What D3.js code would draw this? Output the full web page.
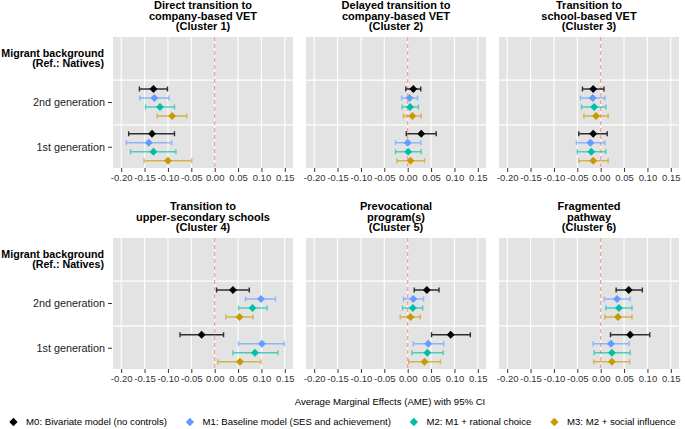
<!DOCTYPE html>
<html><head><meta charset="utf-8">
<script src="https://cdn.jsdelivr.net/npm/d3@7"></script>
<style>body{margin:0;background:#fff}svg{display:block}text{font-family:"Liberation Sans",Arial,sans-serif}</style>
</head><body><svg id="c" width="685" height="429"></svg>
<script>
const clusterTitles = [
  ["Direct transition to","company-based VET","(Cluster 1)"],
  ["Delayed transition to","company-based VET","(Cluster 2)"],
  ["Transition to","school-based VET","(Cluster 3)"],
  ["Transition to","upper-secondary schools","(Cluster 4)"],
  ["Prevocational","program(s)","(Cluster 5)"],
  ["Fragmented","pathway","(Cluster 6)"]
];
const models = ["M0: Bivariate model (no controls)","M1: Baseline model (SES and achievement)","M2: M1 + rational choice","M3: M2 + social influence"];
const modelColors = ["#000000","#619CFF","#00BFA5","#C99A00"];
const generations = ["2nd generation","1st generation"];
const headerLabel = ["Migrant background","(Ref.: Natives)"];
const xTicks = [-0.20,-0.15,-0.10,-0.05,0.00,0.05,0.10,0.15];
const xTickLabels = ["-0.20","-0.15","-0.10","-0.05","0.00","0.05","0.10","0.15"];
const xTitle = "Average Marginal Effects (AME) with 95% CI";
// estimates[cluster][generation][model]
const estimates = [
  [[-0.131,-0.129,-0.117,-0.091],[-0.134,-0.141,-0.131,-0.100]],
  [[0.012,0.004,0.005,0.010],[0.029,0.000,0.001,0.006]],
  [[-0.016,-0.017,-0.014,-0.010],[-0.016,-0.022,-0.020,-0.016]],
  [[0.039,0.099,0.081,0.053],[-0.028,0.101,0.086,0.054]],
  [[0.041,0.012,0.011,0.006],[0.092,0.044,0.042,0.036]],
  [[0.060,0.035,0.039,0.037],[0.063,0.022,0.024,0.024]]
];
const ciLow = [
  [[-0.161,-0.160,-0.148,-0.123],[-0.184,-0.189,-0.180,-0.151]],
  [[-0.004,-0.013,-0.012,-0.009],[-0.003,-0.026,-0.026,-0.023]],
  [[-0.039,-0.043,-0.041,-0.036],[-0.047,-0.052,-0.050,-0.047]],
  [[0.004,0.066,0.051,0.024],[-0.074,0.051,0.039,0.007]],
  [[0.014,-0.009,-0.011,-0.016],[0.051,0.012,0.009,0.002]],
  [[0.033,0.008,0.011,0.009],[0.021,-0.016,-0.014,-0.015]]
];
const ciHigh = [
  [[-0.101,-0.098,-0.086,-0.060],[-0.086,-0.092,-0.083,-0.049]],
  [[0.028,0.021,0.023,0.029],[0.061,0.028,0.029,0.036]],
  [[0.007,0.009,0.011,0.016],[0.014,0.009,0.011,0.016]],
  [[0.074,0.130,0.112,0.082],[0.019,0.149,0.135,0.099]],
  [[0.067,0.034,0.032,0.027],[0.134,0.077,0.076,0.070]],
  [[0.089,0.063,0.067,0.067],[0.105,0.061,0.063,0.062]]
];

const svg = d3.select("#c");
const panelW = 180, panelH = 131;
const panelLeft = [113, 306, 499], panelTop = [37, 238];
const x = d3.scaleLinear().domain([-0.2175, 0.1675]).range([0, panelW]);
const yCat = d3.scalePoint().domain(["header", ...generations]).range([0, panelH]).padding(0.465);
const yModel = d3.scaleBand().domain(models).range([-18, 18]);
const diamond = d3.symbol().type(d3.symbolDiamond2 || d3.symbolSquare2).size(40);

clusterTitles.forEach((title, ci) => {
  const col = ci % 3, row = Math.floor(ci / 3);
  const g = svg.append("g").attr("transform", `translate(${panelLeft[col]},${panelTop[row]})`);
  g.append("rect").attr("width", panelW).attr("height", panelH).attr("fill", "#E3E3E3");
  g.selectAll(".vg").data(xTicks).join("line")
    .attr("x1", d => x(d)).attr("x2", d => x(d)).attr("y1", 0).attr("y2", panelH)
    .attr("stroke", "#fff").attr("stroke-width", 1.1);
  const step = yCat.step();
  [yCat("header") + step / 2, yCat(generations[0]) + step / 2].forEach(yy => {
    g.append("line").attr("x1", 0).attr("x2", panelW).attr("y1", yy).attr("y2", yy)
      .attr("stroke", "#fff").attr("stroke-width", 1.4);
  });
  g.append("line").attr("x1", x(0)).attr("x2", x(0)).attr("y1", 0).attr("y2", panelH)
    .attr("stroke", "#F59A92").attr("stroke-width", 1.2).attr("stroke-dasharray", "4,3");
  const ax = g.append("g").attr("transform", `translate(0,${panelH})`)
    .call(d3.axisBottom(x).tickValues(xTicks).tickFormat((d, i) => xTickLabels[i]).tickSize(4).tickPadding(2));
  ax.select(".domain").remove();
  ax.selectAll("line").attr("stroke", "#333").attr("stroke-width", 1);
  ax.selectAll("text").attr("font-size", 9.5).attr("fill", "#333");
  const t = svg.append("text").attr("text-anchor", "middle").attr("font-weight", "bold").attr("font-size", 11)
    .attr("x", panelLeft[col] + panelW / 2).attr("y", panelTop[row] - 28);
  title.forEach((s, i) => t.append("tspan").attr("x", panelLeft[col] + panelW / 2).attr("dy", i ? 10.6 : 0).text(s));
  if (col === 0) {
    const hl = svg.append("text").attr("text-anchor", "end").attr("font-weight", "bold").attr("font-size", 10.7)
      .attr("x", panelLeft[0] - 9).attr("y", panelTop[row] + yCat("header") - 1);
    headerLabel.forEach((s, i) => hl.append("tspan").attr("x", panelLeft[0] - 9).attr("dy", i ? 10.5 : 0).text(s));
    generations.forEach(gen => {
      const yy = panelTop[row] + yCat(gen);
      svg.append("text").attr("text-anchor", "end").attr("font-size", 10.8).attr("fill", "#222")
        .attr("x", panelLeft[0] - 8).attr("y", yy).attr("dy", "0.35em").text(gen);
      svg.append("line").attr("x1", panelLeft[0] - 5).attr("x2", panelLeft[0] - 1).attr("y1", yy).attr("y2", yy)
        .attr("stroke", "#333").attr("stroke-width", 1);
    });
  }
  generations.forEach((gen, gi) => {
    models.forEach((m, mi) => {
      const yy = yCat(gen) + yModel(m) + yModel.bandwidth() / 2;
      const lo = x(ciLow[ci][gi][mi]), hi = x(ciHigh[ci][gi][mi]), est = x(estimates[ci][gi][mi]);
      const c = modelColors[mi];
      const eb = g.append("g").attr("stroke", c).attr("stroke-opacity", mi === 0 ? 0.8 : 0.65).attr("stroke-width", 1.4).attr("fill", "none");
      eb.append("path").attr("d", `M${lo},${yy - 2.5}V${yy + 2.5}M${lo},${yy}H${hi}M${hi},${yy - 2.5}V${yy + 2.5}`);
      g.append("path").attr("d", diamond()).attr("transform", `translate(${est},${yy})`).attr("fill", c);
    });
  });
});

svg.append("text").attr("text-anchor", "middle").attr("font-size", 9.6).attr("x", 390).attr("y", 405).text(xTitle);

const leg = svg.append("g");
let cx = 0;
models.forEach((m, i) => {
  const it = leg.append("g");
  it.append("path").attr("d", d3.symbol().type(d3.symbolDiamond2 || d3.symbolSquare2).size(44)()).attr("transform", "translate(4,0)").attr("fill", modelColors[i]);
  const tx = it.append("text").attr("x", 16.7).attr("dy", "0.35em").attr("font-size", 9.6).text(m);
  const w = 16.7 + tx.node().getComputedTextLength();
  it.attr("transform", `translate(${cx},0)`);
  cx += w + 19;
});
const legW = cx - 19;
leg.attr("transform", `translate(${Math.max(4, (685 - legW) / 2)},422)`);
</script></body></html>
